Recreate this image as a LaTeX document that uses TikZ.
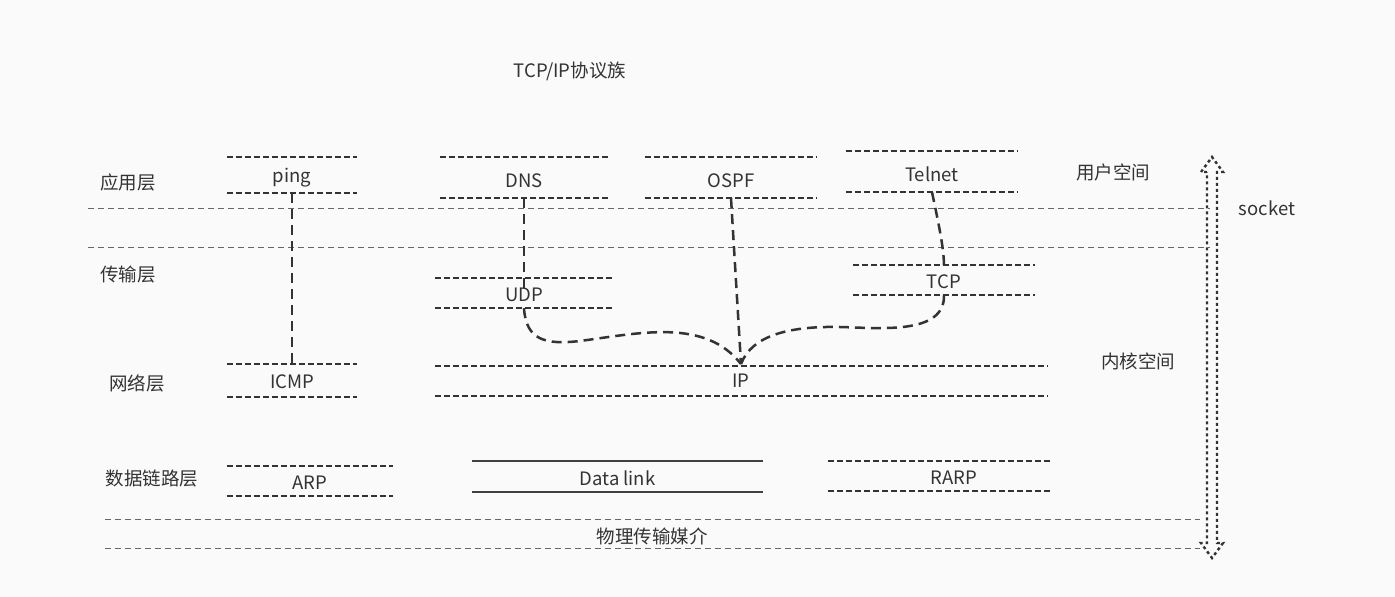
\documentclass[tikz,border=0pt]{standalone}
\usepackage{fontspec}
\setmainfont{Noto Sans CJK SC}
\begin{document}
\begin{tikzpicture}[x=1pt,y=-1pt,
  txt/.style={text=black!80, font=\fontsize{18.5}{22}\selectfont, inner sep=0pt},
  proto/.style={draw=none, rectangle, inner sep=0pt},
  pline/.style={draw=black!80, line width=2.4pt, dash pattern=on 6pt off 3pt},
  dlline/.style={draw=black!75, line width=2.4pt},
  sep/.style={draw=black!60, line width=1pt, dash pattern=on 6pt off 4pt},
  conn/.style={draw=black!80, line width=2.5pt, dash pattern=on 10pt off 6pt},
  sock/.style={draw=black!80, line width=2.4pt, dash pattern=on 3pt off 3pt}]
\fill[black!2] (0,0) rectangle (1395,597);
\useasboundingbox (0,0) rectangle (1395,597);

% title and labels
\node[txt] (title) at (570,71) {TCP/IP协议族};
\node[txt] (app) at (128,182) {应用层};
\node[txt] (trans) at (128,275) {传输层};
\node[txt] (net) at (137,383) {网络层};
\node[txt] (link) at (152,479) {数据链路层};
\node[txt] (user) at (1113,172) {用户空间};
\node[txt] (kern) at (1138,361) {内核空间};
\node[txt] (sockl) at (1267,208) {socket};
\node[txt] (phys) at (652,536) {物理传输媒介};

% separators
\coordinate (s1a) at (88,208); \coordinate (s1b) at (1210,208);
\coordinate (s2a) at (88,247); \coordinate (s2b) at (1210,247);
\coordinate (s3a) at (105,519); \coordinate (s3b) at (1200,519);
\coordinate (s4a) at (105,548); \coordinate (s4b) at (1200,548);
\draw[sep] (s1a) -- (s1b);
\draw[sep] (s2a) -- (s2b);
\draw[sep] (s3a) -- (s3b);
\draw[sep] (s4a) -- (s4b);

% protocol boxes
\node[proto, minimum width=130, minimum height=36] (ping) at (292,175) {};
\node[proto, minimum width=168, minimum height=41] (dns) at (524,177.5) {};
\node[proto, minimum width=172, minimum height=41] (ospf) at (731,177.5) {};
\node[proto, minimum width=172, minimum height=41] (telnet) at (932,171.5) {};
\node[proto, minimum width=178, minimum height=30] (udp) at (524,293) {};
\node[proto, minimum width=182, minimum height=30] (tcp) at (944,280) {};
\node[proto, minimum width=130, minimum height=33] (icmp) at (292,380.5) {};
\node[proto, minimum width=612, minimum height=30] (ip) at (741,381) {};
\node[proto, minimum width=166, minimum height=30] (arp) at (310,481) {};
\node[proto, minimum width=291, minimum height=31] (dl) at (617.5,476.5) {};
\node[proto, minimum width=224, minimum height=30] (rarp) at (940,476) {};

\node[txt] (pingt) at ([yshift=-3pt]ping.center) {ping};
\node[txt] (dnst) at ([yshift=-3pt]dns.center) {DNS};
\node[txt] (ospft) at ([yshift=-3pt]ospf.center) {OSPF};
\node[txt] (telnett) at ([yshift=-2.5pt]telnet.center) {Telnet};
\node[txt] (udpt) at ([yshift=-2pt]udp.center) {UDP};
\node[txt] (tcpt) at ([yshift=-2pt]tcp.center) {TCP};
\node[txt] (icmpt) at ([yshift=-1.5pt]icmp.center) {ICMP};
\node[txt] (ipt) at ([yshift=0pt]ip.center) {IP};
\node[txt] (arpt) at ([yshift=-2pt]arp.center) {ARP};
\node[txt] (dlt) at ([yshift=-1.5pt]dl.center) {Data link};
\node[txt] (rarpt) at ([xshift=14pt,yshift=-2pt]rarp.center) {RARP};

\foreach \n in {ping,dns,ospf,telnet,udp,tcp,icmp,ip,arp,rarp}{
  \draw[pline] (\n.north west) -- (\n.north east);
  \draw[pline] (\n.south west) -- (\n.south east);
}
\draw[dlline] (dl.north west) -- (dl.north east);
\draw[dlline] (dl.south west) -- (dl.south east);

% connectors
\coordinate (ipin) at (741,364);
\draw[conn] (ping.south) -- (icmp.north);
\draw[conn] (dns.south) -- ([yshift=-10pt]udp.north);
\draw[conn] (ospf.south) -- (ipin);
\draw[conn] (telnet.south) .. controls (940,230) and (944,250) .. ([yshift=-2pt]tcp.north);
\draw[conn] (udp.south) .. controls (526,340) and (545,345) .. (580,341)
  .. controls (640,333) and (705,318) .. (ipin);
\draw[conn] (tcp.south) .. controls (945,335) and (880,328) .. (840,327)
  .. controls (790,326) and (752,335) .. (ipin);

% socket double arrow
\coordinate (sktop) at (1212,157);
\coordinate (skbot) at (1212,558);
\draw[sock] (1207,172) -- (1201,172) -- (sktop) -- (1223,172) -- (1217,172)
  -- (1217,543) -- (1223,543) -- (skbot) -- (1201,543) -- (1207,543) -- cycle;
\end{tikzpicture}
\end{document}
